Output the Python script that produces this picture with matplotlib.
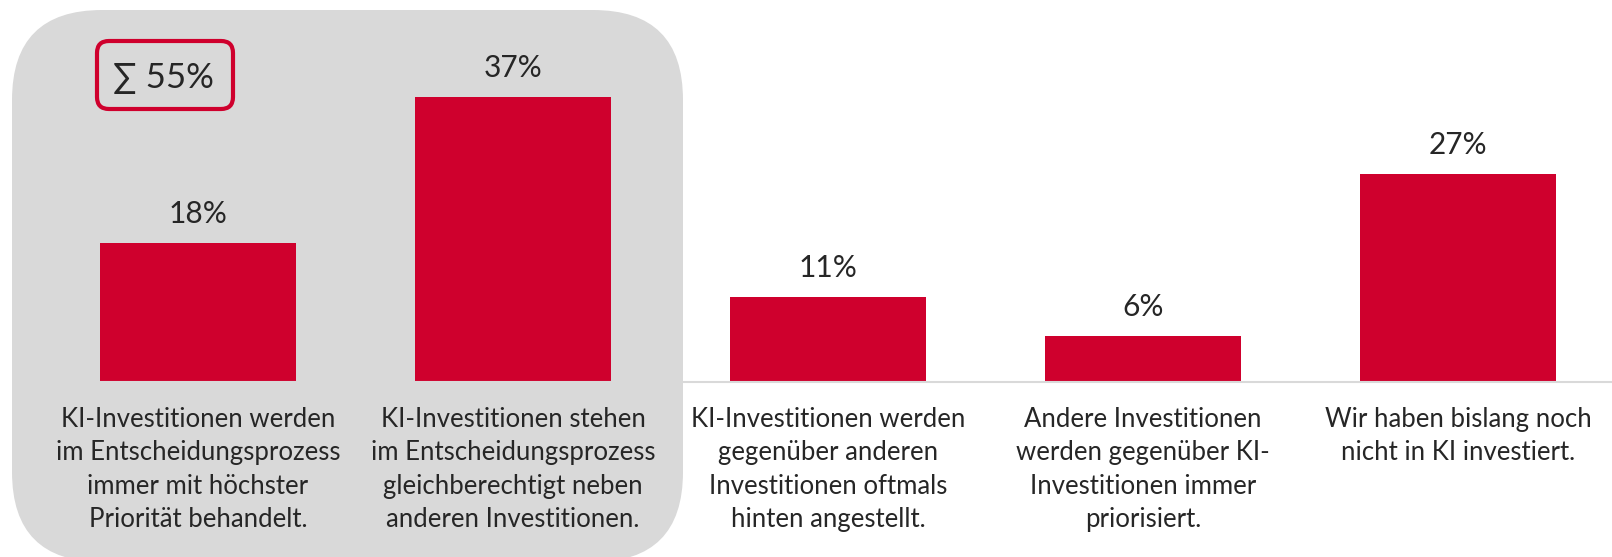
import matplotlib
matplotlib.use("Agg")
import matplotlib.pyplot as plt
from matplotlib.patches import FancyBboxPatch

plt.rcParams["font.family"] = ["Lato", "DejaVu Sans"]

# data
categories = [
    "KI-Investitionen werden\nim Entscheidungsprozess\nimmer mit höchster\nPriorität behandelt.",
    "KI-Investitionen stehen\nim Entscheidungsprozess\ngleichberechtigt neben\nanderen Investitionen.",
    "KI-Investitionen werden\ngegenüber anderen\nInvestitionen oftmals\nhinten angestellt.",
    "Andere Investitionen\nwerden gegenüber KI-\nInvestitionen immer\npriorisiert.",
    "Wir haben bislang noch\nnicht in KI investiert.",
]
values = [18, 37, 11, 6, 27]
sum_label = "∑ 55%"

bar_color = "#CF002D"
text_color = "#262626"
panel_color = "#D9D9D9"

W, H = 1612, 557
fig = plt.figure(figsize=(W / 100, H / 100), dpi=100)

# background layer in pixel coordinates
bg = fig.add_axes([0, 0, 1, 1], zorder=0)
bg.set_xlim(0, W)
bg.set_ylim(H, 0)
bg.axis("off")
panel = FancyBboxPatch((12, 10), 671, 552, boxstyle="round,pad=0,rounding_size=90",
                       facecolor=panel_color, edgecolor="none")
bg.add_patch(panel)
sbox = FancyBboxPatch((97, 41), 136, 68, boxstyle="round,pad=0,rounding_size=12",
                      facecolor="none", edgecolor=bar_color, linewidth=3)
bg.add_patch(sbox)
bg.text(163, 78, sum_label, ha="center", va="center", fontsize=25,
        color=text_color, family=["Lato", "DejaVu Sans"])

# bar chart
base_y = 382
px_per_pct = 7.7
top = 50
ax_h = top * px_per_pct
ax = fig.add_axes([40.5 / W, (H - base_y) / H, 1575 / W, ax_h / H], zorder=1)
ax.patch.set_alpha(0)
x = range(len(values))
bars = ax.bar(x, values, width=0.622, color=bar_color, zorder=2)
ax.set_xlim(-0.5, 4.5)
ax.set_ylim(0, top)
for s in ["top", "right", "left"]:
    ax.spines[s].set_visible(False)
ax.spines["bottom"].set_color("#D9D9D9")
ax.spines["bottom"].set_linewidth(1.5)
ax.set_yticks([])
ax.set_xticks([])

for xi, v in zip(x, values):
    ax.annotate(f"{v}%", (xi, v), xytext=(0, 21), textcoords="offset points",
                ha="center", va="center", fontsize=21.5, color=text_color)

for xi, lab in zip(x, categories):
    ax.annotate(lab, (xi, 0), xytext=(0, -18), textcoords="offset points",
                ha="center", va="top", fontsize=18.5, color=text_color,
                linespacing=1.42)

fig.savefig("out.png", dpi=100)
